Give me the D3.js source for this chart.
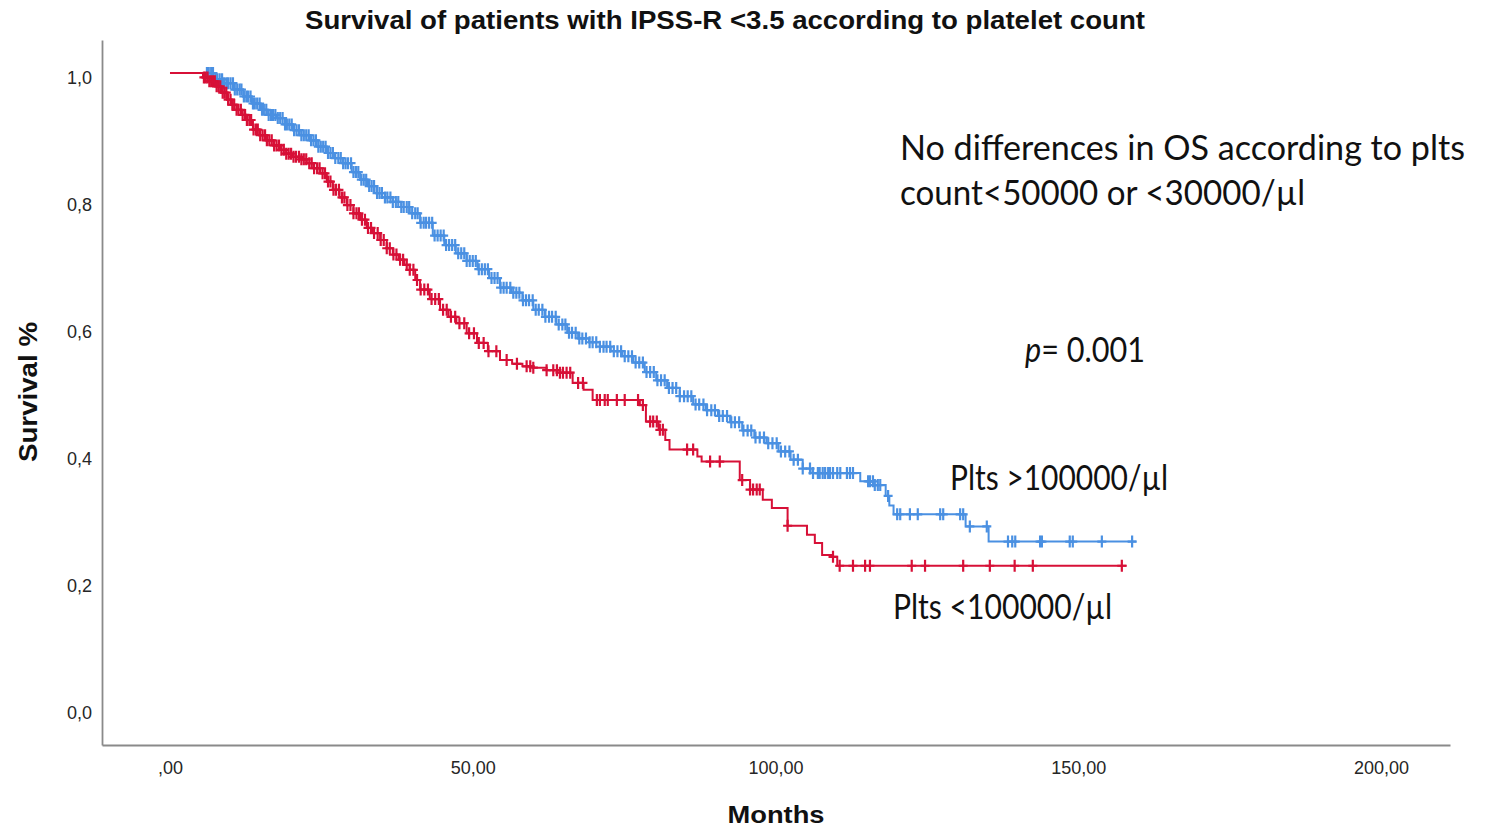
<!DOCTYPE html>
<html>
<head>
<meta charset="utf-8">
<script src="https://cdn.jsdelivr.net/npm/d3@7"></script>
<style>
  html, body { margin: 0; padding: 0; background: #fff; }
  svg { display: block; }
</style>
</head>
<body>
<svg id="chart" width="1493" height="829"></svg>
<script>
// ---------------- DATA ----------------
const titleText = "Survival of patients with IPSS-R <3.5 according to platelet count";
const xTickValues = [0, 50, 100, 150, 200];
const yTickValues = [0, 0.2, 0.4, 0.6, 0.8, 1.0];

// Plts >100000/µl (blue) : step times and survival after each step
const highTimes = [0, 6.0, 7.5, 8.75, 10.5, 12.1, 13.5, 14.9, 16.2, 17.6, 19, 20.3, 21.7, 23.1, 24.5, 25.9, 27.2, 28.6, 30, 31.4, 32.7, 34.1, 35.5, 36.8, 38.2, 39.6, 41.3, 43.4, 45.3, 47.2, 49, 50.8, 52.7, 54.5, 56.4, 58.2, 60, 61.9, 63.8, 65.6, 67.4, 69.2, 71, 72.8, 74.7, 76.5, 78.4, 80.3, 82.1, 84.2, 86.4, 88.5, 90.5, 92.5, 94.5, 96.5, 98.5, 100.5, 102.5, 104.5, 105.8, 114.0, 116.3, 118.2, 118.8, 119.5, 131.4, 135.2];
const highSurv  = [1.0, 1.0, 0.99, 0.984, 0.974, 0.963, 0.952, 0.942, 0.934, 0.929, 0.919, 0.91, 0.902, 0.894, 0.884, 0.874, 0.866, 0.858, 0.844, 0.832, 0.822, 0.811, 0.804, 0.797, 0.789, 0.779, 0.764, 0.744, 0.729, 0.716, 0.704, 0.691, 0.677, 0.662, 0.654, 0.642, 0.627, 0.616, 0.604, 0.591, 0.582, 0.576, 0.569, 0.562, 0.554, 0.544, 0.529, 0.516, 0.504, 0.491, 0.478, 0.469, 0.46, 0.45, 0.437, 0.426, 0.417, 0.404, 0.391, 0.377, 0.37, 0.357, 0.351, 0.334, 0.319, 0.305, 0.286, 0.262];
const highEnd = 159.6;
const highCensored = [6.1, 6.4, 6.8, 7.1, 7.5, 7.8, 8.2, 8.6, 8.9, 9.3, 9.6, 10.0, 10.4, 10.7, 11.1, 11.5, 11.8, 12.2, 12.6, 12.9, 13.3, 13.7, 14.0, 14.4, 14.8, 15.2, 15.5, 15.9, 16.3, 16.7, 17.0, 17.4, 17.8, 18.2, 18.6, 19.0, 19.3, 19.7, 20.1, 20.5, 20.9, 21.3, 21.7, 22.1, 22.5, 22.9, 23.3, 23.7, 24.1, 24.5, 24.9, 25.3, 25.7, 26.1, 26.5, 26.9, 27.3, 27.8, 28.2, 28.6, 29.0, 29.4, 29.9, 30.3, 30.7, 31.1, 31.6, 32.0, 32.4, 32.9, 33.3, 33.7, 34.2, 34.6, 35.0, 35.5, 35.9, 36.4, 36.8, 37.3, 37.7, 38.2, 38.6, 39.1, 39.5, 40.0, 40.5, 40.9, 41.4, 41.9, 42.3, 42.8, 43.3, 43.7, 44.2, 44.7, 45.2, 45.6, 46.1, 46.6, 47.1, 47.6, 48.1, 48.6, 49.0, 49.5, 50.0, 50.5, 51.0, 51.5, 52.0, 52.5, 53.1, 53.6, 54.1, 54.6, 55.1, 55.6, 56.2, 56.7, 57.2, 57.7, 58.3, 58.8, 59.3, 59.9, 60.4, 60.9, 61.5, 62.0, 62.6, 63.1, 63.7, 64.2, 64.8, 65.3, 65.9, 66.4, 67.0, 67.6, 68.1, 68.7, 69.3, 69.8, 70.4, 71.0, 71.6, 72.1, 72.7, 73.3, 73.9, 74.5, 75.1, 75.7, 76.3, 76.9, 77.5, 78.1, 78.7, 79.3, 79.9, 80.5, 81.1, 81.7, 82.4, 83.0, 83.6, 84.2, 84.9, 85.5, 86.1, 86.8, 87.4, 88.1, 88.7, 89.4, 90.0, 90.7, 91.3, 92.0, 92.7, 93.3, 94.0, 94.7, 95.4, 96.0, 96.7, 97.4, 98.1, 98.8, 99.5, 100.2, 100.9, 101.6, 102.3, 103.0, 103.7, 104.5, 105.7, 106.2, 107.0, 107.3, 107.8, 108.2, 108.7, 109.0, 109.5, 110.2, 110.7, 111.8, 112.3, 112.8, 115.3, 115.6, 116.1, 116.4, 116.9, 117.3, 118.6, 120.1, 120.6, 122.2, 123.5, 127.2, 127.7, 130.5, 131.0, 132.1, 134.9, 138.4, 139.1, 139.6, 143.7, 144.0, 148.6, 149.1, 153.9, 158.9];

// Plts <100000/µl (red)
const lowTimes = [0, 5.45, 6.5, 7.7, 8.5, 9.4, 10.2, 11, 11.8, 12.7, 13.7, 14.8, 16, 17.1, 18.2, 19.2, 20.3, 21.5, 22.6, 23.7, 24.8, 25.9, 26.9, 28, 29.2, 30.3, 31.4, 32.5, 33.5, 34.7, 35.8, 36.8, 37.8, 38.7, 39.6, 40.5, 41.3, 42.9, 44.6, 46, 47.3, 49, 50.7, 52.5, 54.5, 56.5, 58.2, 60, 62.2, 64.4, 66.5, 68.3, 69.8, 77.6, 78.6, 80.7, 81.8, 82.5, 87.1, 87.8, 94.1, 95.8, 97.9, 99.4, 102, 105.2, 106.5, 107.7, 109.4, 110.2];
const lowSurv  = [1.0, 0.993, 0.987, 0.979, 0.969, 0.958, 0.95, 0.942, 0.934, 0.926, 0.911, 0.902, 0.894, 0.886, 0.879, 0.873, 0.868, 0.864, 0.858, 0.85, 0.842, 0.829, 0.816, 0.804, 0.792, 0.779, 0.769, 0.756, 0.748, 0.737, 0.724, 0.714, 0.706, 0.698, 0.69, 0.674, 0.659, 0.644, 0.627, 0.616, 0.606, 0.59, 0.575, 0.562, 0.548, 0.542, 0.538, 0.536, 0.532, 0.528, 0.512, 0.501, 0.485, 0.477, 0.451, 0.438, 0.422, 0.407, 0.396, 0.388, 0.359, 0.344, 0.328, 0.315, 0.287, 0.273, 0.26, 0.241, 0.238, 0.224];
const lowEnd = 158.0;
const lowCensored = [5.6, 5.9, 6.2, 6.5, 6.8, 7.1, 7.4, 7.7, 8.0, 8.3, 8.7, 9.0, 9.3, 9.6, 10.0, 10.3, 10.6, 11.0, 11.3, 11.7, 12.0, 12.4, 12.7, 13.1, 13.4, 13.8, 14.2, 14.5, 14.9, 15.3, 15.7, 16.0, 16.4, 16.8, 17.2, 17.6, 18.0, 18.4, 18.8, 19.2, 19.6, 20.0, 20.4, 20.8, 21.3, 21.7, 22.1, 22.5, 23.0, 23.4, 23.8, 24.3, 24.7, 25.2, 25.6, 26.1, 26.5, 27.0, 27.4, 27.9, 28.4, 28.8, 29.3, 29.8, 30.3, 30.8, 31.2, 31.7, 32.2, 32.7, 33.2, 33.7, 34.3, 34.8, 35.3, 35.8, 36.3, 36.9, 37.4, 38.0, 38.5, 39.1, 39.6, 40.2, 40.8, 41.4, 42.0, 42.6, 43.2, 43.8, 44.4, 45.1, 45.7, 46.4, 47.1, 47.8, 48.6, 49.4, 50.2, 51.0, 51.8, 52.6, 53.9, 55.6, 57.3, 58.9, 59.5, 60.0, 62.2, 63.3, 63.9, 64.4, 64.9, 65.5, 66.1, 67.4, 68.2, 70.5, 71.0, 71.8, 72.3, 73.8, 75.1, 77.3, 78.1, 79.3, 79.8, 80.4, 80.9, 81.4, 85.4, 86.4, 89.2, 90.8, 94.5, 95.8, 96.3, 96.9, 97.4, 102.0, 109.5, 110.6, 112.8, 114.8, 115.6, 122.5, 124.7, 131.0, 135.4, 139.5, 142.5, 157.2];

const seriesLabels = ["Plts >100000/µl", "Plts <100000/µl"];
const noteLines = ["No differences in OS according to plts", "count<50000 or <30000/µl"];
const pValue = "0.001";

// ---------------- CHART ----------------
const svg = d3.select("#chart");
const blue = "#4a90e2", red = "#d71037";

const x = d3.scaleLinear().domain([-11.23, 211.4]).range([102, 1450]);
const y = d3.scaleLinear().domain([-0.0583, 1.052]).range([745, 40]);

// axes
const xAxis = d3.axisBottom(x).tickValues(xTickValues).tickSize(0).tickPadding(16)
  .tickFormat(d => d === 0 ? ",00" : d3.format(".2f")(d).replace(".", ","));
const yAxis = d3.axisLeft(y).tickValues(yTickValues).tickSize(0).tickPadding(10)
  .tickFormat(d => d3.format(".1f")(d).replace(".", ","));

const gx = svg.append("g").attr("transform", "translate(0,745)").call(xAxis);
const gy = svg.append("g").attr("transform", "translate(102,0)").call(yAxis);
[gx, gy].forEach(g => {
  g.select(".domain").attr("stroke", "#8a8a8a").attr("stroke-width", 1.8);
  g.selectAll("text").attr("font-family", "Liberation Sans, Arial, sans-serif")
    .attr("font-size", 18).attr("fill", "#262626");
});
gy.selectAll("text").attr("dy", "0.6em");

// step function helpers
function survAt(times, surv, t) {
  const i = d3.bisectRight(times, t) - 1;
  return surv[Math.max(0, i)];
}
function drawSeries(times, surv, tEnd, cens, color) {
  const pts = times.map((t, i) => [t, surv[i]]);
  pts.push([tEnd, surv[surv.length - 1]]);
  const line = d3.line().x(d => x(d[0])).y(d => y(d[1])).curve(d3.curveStepAfter);
  const g = svg.append("g");
  g.append("path").attr("d", line(pts)).attr("fill", "none")
    .attr("stroke", color).attr("stroke-width", 2);
  g.selectAll("path.cens").data(cens).enter().append("path")
    .attr("class", "cens")
    .attr("d", t => {
      const cx = x(t), cy = y(survAt(times, surv, t));
      return `M${cx - 4.5},${cy}H${cx + 4.5}M${cx},${cy - 6}V${cy + 6}`;
    })
    .attr("stroke", color).attr("stroke-width", 2.2).attr("fill", "none");
}
drawSeries(highTimes, highSurv, highEnd, highCensored, blue);
drawSeries(lowTimes, lowSurv, lowEnd, lowCensored, red);

// titles
svg.append("text").attr("x", 305).attr("y", 29).text(titleText)
  .attr("font-family", "Liberation Sans, Arial, sans-serif").attr("font-weight", "bold")
  .attr("font-size", 25).attr("fill", "#111")
  .attr("textLength", 840).attr("lengthAdjust", "spacingAndGlyphs");

svg.append("text").attr("transform", "translate(37,392) rotate(-90)")
  .attr("text-anchor", "middle").text("Survival %")
  .attr("font-family", "Liberation Sans, Arial, sans-serif").attr("font-weight", "bold")
  .attr("font-size", 26).attr("fill", "#111")
  .attr("textLength", 140).attr("lengthAdjust", "spacingAndGlyphs");

svg.append("text").attr("x", 776).attr("y", 823).attr("text-anchor", "middle").text("Months")
  .attr("font-family", "Liberation Sans, Arial, sans-serif").attr("font-weight", "bold")
  .attr("font-size", 24).attr("fill", "#111")
  .attr("textLength", 97).attr("lengthAdjust", "spacingAndGlyphs");

// annotations
const noteFont = "Lato, 'Open Sans', sans-serif";
function note(txt, x0, yb, len) {
  return svg.append("text").attr("x", x0).attr("y", yb).text(txt)
    .attr("font-family", noteFont).attr("font-size", 34).attr("fill", "#111")
    .attr("textLength", len).attr("lengthAdjust", "spacingAndGlyphs");
}
note(noteLines[0], 900, 160, 565);
note(noteLines[1], 900, 205, 405);
const pt = svg.append("text").attr("x", 1025).attr("y", 362)
  .attr("font-family", noteFont).attr("font-size", 34).attr("fill", "#111")
  .attr("textLength", 120).attr("lengthAdjust", "spacingAndGlyphs");
pt.append("tspan").attr("font-style", "italic").text("p");
pt.append("tspan").text("= " + pValue);
note(seriesLabels[0], 950, 490, 218);
note(seriesLabels[1], 893, 619, 219);
</script>
</body>
</html>
